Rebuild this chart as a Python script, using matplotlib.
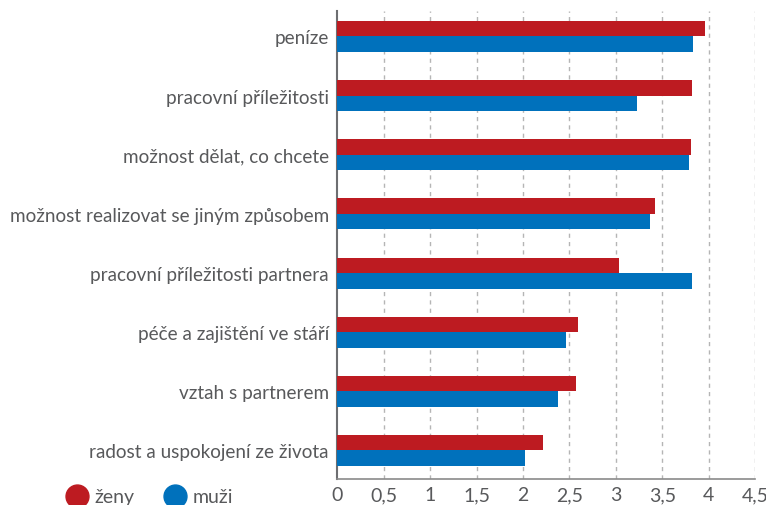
import numpy as np
import matplotlib
matplotlib.use("Agg")
import matplotlib.pyplot as plt
from matplotlib.lines import Line2D

categories = [
    "peníze",
    "pracovní příležitosti",
    "možnost dělat, co chcete",
    "možnost realizovat se jiným způsobem",
    "pracovní příležitosti partnera",
    "péče a zajištění ve stáří",
    "vztah s partnerem",
    "radost a uspokojení ze života",
]
zeny = [3.96, 3.82, 3.81, 3.42, 3.03, 2.59, 2.57, 2.22]
muzi = [3.83, 3.23, 3.79, 3.37, 3.82, 2.46, 2.38, 2.02]
ticks = [0, 0.5, 1, 1.5, 2, 2.5, 3, 3.5, 4, 4.5]

RED = "#bd1b21"
BLUE = "#0071bc"
GREY = "#58595b"

plt.rcParams["font.family"] = ["Lato", "DejaVu Sans"]

fig = plt.figure(figsize=(7.66, 5.06), dpi=100)
ax = fig.add_axes([0.4403, 0.0514, 0.5457, 0.9249])

y = np.arange(len(categories))
h = 0.262
ax.barh(y - h / 2, zeny, height=h, color=RED, zorder=3)
ax.barh(y + h / 2, muzi, height=h, color=BLUE, zorder=3)

ax.set_xlim(0, 4.5)
ax.set_ylim(7.482, -0.431)
ax.set_xticks(ticks)
ax.set_xticklabels([f"{t:g}".replace(".", ",") for t in ticks])
ax.set_yticks(y)
ax.set_yticklabels(categories)
ax.tick_params(axis="both", length=0, colors=GREY)
ax.tick_params(axis="y", pad=6, labelsize=13.6)
ax.tick_params(axis="x", pad=5, labelsize=14)

for t in ticks[1:]:
    ax.axvline(t, color="#b5b5b5", lw=1, ls=(0, (3, 3)), zorder=1)

for s in ["top", "right"]:
    ax.spines[s].set_visible(False)
ax.spines["left"].set_color("#6d6e71")
ax.spines["left"].set_linewidth(1.5)
ax.spines["bottom"].set_color("#8a8a8a")
ax.spines["bottom"].set_linewidth(1.2)

handles = [
    Line2D([], [], marker="o", ls="", color=RED, markersize=16.5),
    Line2D([], [], marker="o", ls="", color=BLUE, markersize=16.5),
]
leg = fig.legend(handles, ["ženy", "muži"], loc="center left",
                 bbox_to_anchor=(0.062, 0.016), ncol=2, frameon=False,
                 fontsize=14, handletextpad=0.3, columnspacing=1.5,
                 handlelength=1.2)
for txt in leg.get_texts():
    txt.set_color(GREY)

fig.savefig("out.png", dpi=100)
